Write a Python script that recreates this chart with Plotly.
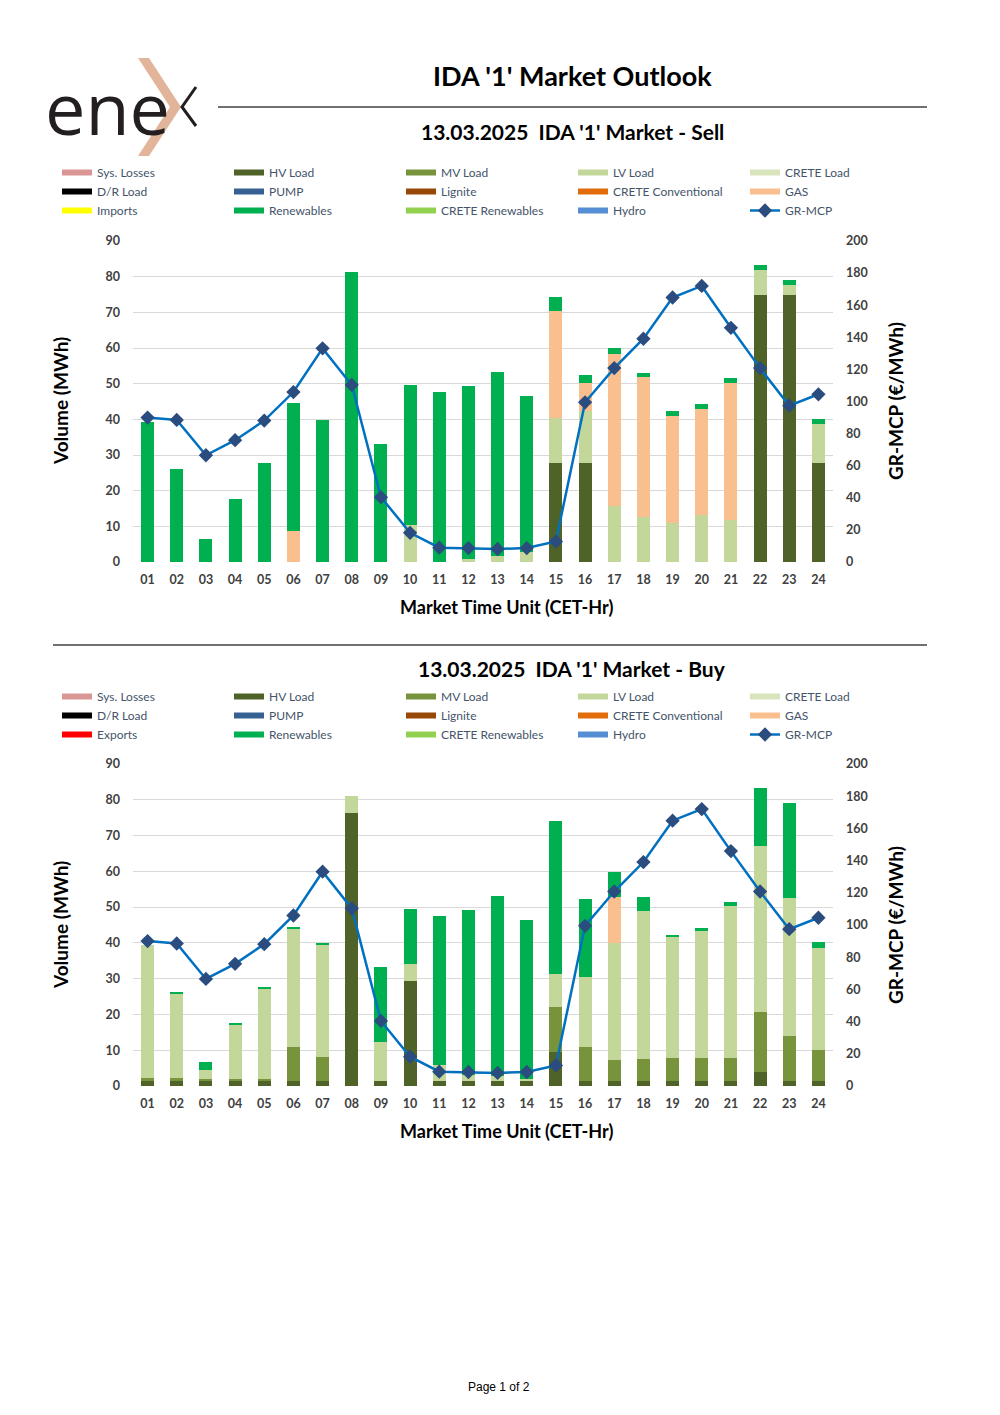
import plotly.graph_objects as go

W, H = 1000, 1415
OX, OY = 8, 8  # page body offset of the rendered figure

hours = ["01","02","03","04","05","06","07","08","09","10","11","12",
         "13","14","15","16","17","18","19","20","21","22","23","24"]

gr_mcp = [90.0, 88.5, 66.5, 75.9, 88.1, 105.9, 133.1, 110.3, 40.4, 18.2, 8.9, 8.7,
          8.1, 8.7, 12.8, 99.5, 120.8, 139.1, 164.8, 172.0, 145.9, 120.8, 97.4, 104.5]

# ---- Sell side (MWh) ----
sell_hv = [0, 0, 0, 0, 0, 0, 0, 0, 0, 0, 0, 0,
           0, 0, 27.8, 27.8, 0, 0, 0, 0, 0, 74.8, 74.8, 27.8]
sell_mv = [0] * 24
sell_lv = [0, 0, 0, 0, 0, 0, 0, 0, 0, 10.3, 0, 0.8,
           1.6, 2.7, 12.7, 14.6, 15.8, 12.7, 10.9, 13.1, 11.9, 7.2, 3.0, 11.0]
sell_gas = [0, 0, 0, 0, 0, 8.7, 0, 0, 0, 0, 0, 0,
            0, 0, 30.0, 7.8, 42.5, 39.1, 30.1, 29.8, 38.3, 0, 0, 0]
sell_ren = [39.3, 26.2, 6.4, 17.6, 27.7, 35.8, 39.9, 81.2, 33.0, 39.3, 47.7, 48.5,
            51.6, 43.9, 3.8, 2.2, 1.7, 1.2, 1.3, 1.4, 1.3, 1.3, 1.3, 1.4]

# ---- Buy side (MWh) ----
buy_hv = [1.4, 1.4, 1.4, 1.4, 1.4, 1.4, 1.4, 76.3, 1.4, 29.4, 1.4, 1.4,
          1.4, 1.4, 9.4, 1.4, 1.4, 1.4, 1.4, 1.4, 1.4, 4.0, 1.4, 1.4]
buy_mv = [0.9, 0.9, 0.6, 0.6, 0.6, 9.5, 6.8, 0, 0, 0, 0, 0,
          0, 0, 12.6, 9.5, 6.0, 6.1, 6.3, 6.3, 6.3, 16.6, 12.7, 8.6]
buy_lv = [37.1, 23.5, 2.4, 15.2, 25.2, 33.1, 31.3, 4.8, 10.8, 4.7, 4.5, 1.7,
          1.4, 0.6, 9.3, 19.5, 32.5, 41.5, 33.9, 35.7, 42.6, 46.5, 38.5, 28.5]
buy_gas = [0, 0, 0, 0, 0, 0, 0, 0, 0, 0, 0, 0,
           0, 0, 0, 0, 13.0, 0, 0, 0, 0, 0, 0, 0]
buy_ren = [0, 0.5, 2.2, 0.5, 0.6, 0.5, 0.4, 0, 21.0, 15.5, 41.7, 46.1,
           50.3, 44.5, 42.9, 21.9, 6.9, 3.9, 0.6, 0.8, 1.1, 16.1, 26.4, 1.7]
zeros = [0] * 24

series_names = ["Sys. Losses", "HV Load", "MV Load", "LV Load", "CRETE Load",
                "D/R Load", "PUMP", "Lignite", "CRETE Conventional", "GAS",
                "Imports", "Renewables", "CRETE Renewables", "Hydro"]
series_colors = ["#DA9694", "#4F6228", "#77933C", "#C4D79B", "#D8E4BC",
                 "#000000", "#366092", "#974706", "#E26B0A", "#FABF8F",
                 "#FFFF00", "#00B050", "#92D050", "#558ED5"]

sell_data = [zeros, sell_hv, sell_mv, sell_lv, zeros, zeros, zeros, zeros, zeros,
             sell_gas, zeros, sell_ren, zeros, zeros]
buy_data = [zeros, buy_hv, buy_mv, buy_lv, zeros, zeros, zeros, zeros, zeros,
            buy_gas, zeros, buy_ren, zeros, zeros]

FONT = "Lato"
TICK = dict(family=FONT, size=12.5, color="#404040", weight="bold")
LEG_TXT = "#44546A"
LINE_C = "#0070C0"
MARK_C = "#2B4C7E"


def px(x):
    return (x - OX) / W


def py(y):
    return 1 - (y - OY) / H


fig = go.Figure()

panels = [
    dict(x="x", y="y", y2="y2", data=sell_data, legend="legend",
         names=series_names, colors=series_colors),
    dict(x="x2", y="y3", y2="y4", data=buy_data, legend="legend2",
         names=series_names[:10] + ["Exports"] + series_names[11:],
         colors=series_colors[:10] + ["#FF0000"] + series_colors[11:]),
]

for p in panels:
    for name, col, vals in zip(p["names"], p["colors"], p["data"]):
        fig.add_trace(go.Bar(x=hours, y=vals, name=name, marker_color=col,
                             marker_line_width=0, xaxis=p["x"], yaxis=p["y"],
                             showlegend=False))
    # legend proxies (wide colour chips)
    for name, col in zip(p["names"], p["colors"]):
        fig.add_trace(go.Scatter(x=[None], y=[None], mode="lines", name=name,
                                 line=dict(color=col, width=6),
                                 xaxis=p["x"], yaxis=p["y"], legend=p["legend"]))
    fig.add_trace(go.Scatter(x=hours, y=gr_mcp, name="GR-MCP", mode="lines+markers",
                             line=dict(color=LINE_C, width=2.5),
                             marker=dict(symbol="diamond", size=11, color=MARK_C),
                             xaxis=p["x"], yaxis=p["y2"], legend=p["legend"]))

xdom = [px(133), px(833)]
top_dom = [py(562), py(241)]
bot_dom = [py(1086), py(764)]

xcommon = dict(type="category", range=[-0.5, len(hours) - 0.5], autorange=False,
               showgrid=False, zeroline=False, showline=False,
               ticks="", tickfont=TICK, ticklabelstandoff=8, domain=xdom,
               automargin=False)
yleft = dict(range=[0, 90], dtick=10, showgrid=True, gridcolor="#D9D9D9", gridwidth=1,
             zeroline=False, showline=False, ticks="", tickfont=TICK,
             ticklabelstandoff=12, automargin=False)
yright = dict(range=[0, 200], dtick=20, showgrid=False, zeroline=False, showline=False,
              ticks="", tickfont=TICK, side="right", ticklabelstandoff=12,
              automargin=False)

legend_common = dict(orientation="h", xanchor="left", yanchor="top",
                     entrywidth=127, entrywidthmode="pixels", traceorder="normal",
                     font=dict(family=FONT, size=12, color=LEG_TXT),
                     bgcolor="rgba(0,0,0,0)")

fig.update_layout(
    width=W, height=H, autosize=False,
    margin=dict(l=0, r=0, t=0, b=0, autoexpand=False),
    paper_bgcolor="white", plot_bgcolor="white",
    barmode="stack", bargap=0.55,
    xaxis=dict(xcommon, anchor="y"),
    yaxis=dict(yleft, domain=top_dom, anchor="x"),
    yaxis2=dict(yright, overlaying="y", anchor="x"),
    xaxis2=dict(xcommon, anchor="y3"),
    yaxis3=dict(yleft, domain=bot_dom, anchor="x2"),
    yaxis4=dict(yright, overlaying="y3", anchor="x2"),
    legend=dict(legend_common, x=px(57), y=py(158)),
    legend2=dict(legend_common, x=px(57), y=py(682)),
)

ann = []


def text(x, y, s, size, bold=True, angle=0, family=FONT, color="#000000", xanchor="center"):
    ann.append(dict(x=px(x), y=py(y), xref="paper", yref="paper", text=s,
                    showarrow=False, textangle=angle, xanchor=xanchor, yanchor="middle",
                    font=dict(family=family, size=size, color=color,
                              weight="bold" if bold else "normal")))


text(572, 76, "IDA '1' Market Outlook", 27)
text(572, 131, "13.03.2025\u00a0\u00a0IDA '1' Market - Sell", 21)
text(572, 669, "13.03.2025\u00a0\u00a0IDA '1' Market - Buy", 21)
for off in (0, 524):
    text(60, 401 + off, "Volume (MWh)", 19, angle=-90)
    text(895, 401 + off, "GR-MCP (€/MWh)", 19, angle=-90)
    text(506, 607 + off, "Market Time Unit (CET-Hr)", 18)
text(499, 1387, "Page 1 of 2", 12, bold=False, family="Liberation Sans")
# logo wordmark
text(43, 107, "ene", 72, bold=False, family="Open Sans", color="#231F20", xanchor="left")

shapes = [
    dict(type="line", xref="paper", yref="paper", x0=px(218), x1=px(927), y0=py(107), y1=py(107),
         line=dict(color="#404040", width=1.5)),
    dict(type="line", xref="paper", yref="paper", x0=px(53), x1=px(927), y0=py(645), y1=py(645),
         line=dict(color="#404040", width=1.5)),
]


def path(points, close=True):
    s = "M " + " L ".join(f"{px(a):.5f},{py(b):.5f}" for a, b in points)
    return s + (" Z" if close else "")


shapes.append(dict(type="path", xref="paper", yref="paper",
                   path=path([(138, 58), (149, 58), (181, 107), (149, 156), (138, 156), (170, 107)]),
                   fillcolor="#E2B59A", line=dict(width=0), layer="above"))
shapes.append(dict(type="path", xref="paper", yref="paper",
                   path=path([(196, 87), (182, 107), (196, 126)], close=False),
                   line=dict(color="#231F20", width=3), layer="above"))

fig.update_layout(annotations=ann, shapes=shapes)

fig.write_html("out.html")
